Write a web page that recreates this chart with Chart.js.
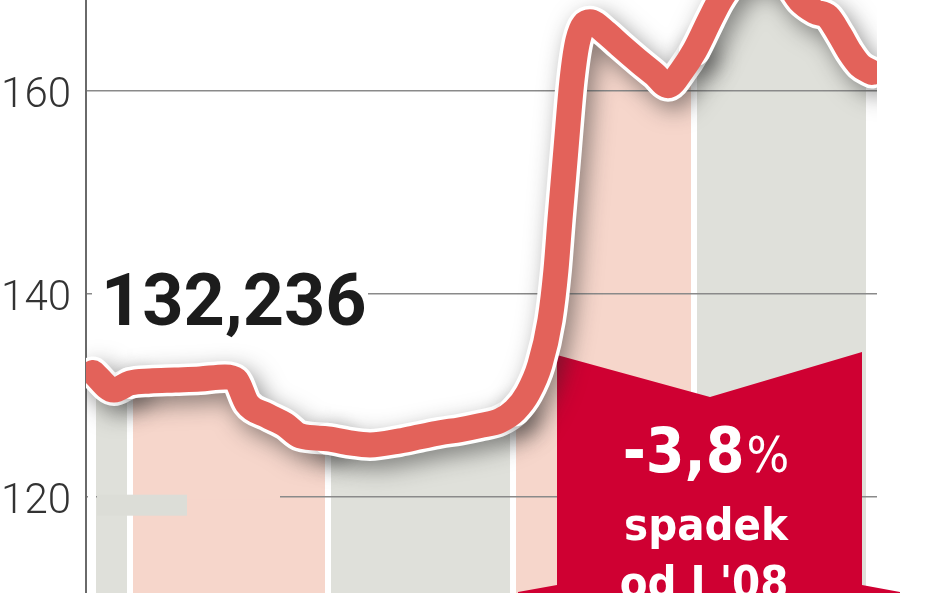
<!DOCTYPE html>
<html>
<head>
<meta charset="utf-8">
<script src="https://cdn.jsdelivr.net/npm/chart.js@4.4.1/dist/chart.umd.min.js"></script>
<style>
html,body{margin:0;padding:0;background:#fff;overflow:hidden}
#wrap{position:relative;width:948px;height:593px}
canvas{display:block}
</style>
</head>
<body>
<div id="wrap"><canvas id="c" width="948" height="593"></canvas></div>
<script>
// ---- data (session index, index value) ----
const sessions = [0.78, 3.11, 4.89, 7.11, 9.89, 12.67, 15.44, 16.67, 17.89, 20.11,
  22.11, 23.78, 26.89, 29.33, 31.56, 34.89, 37.11, 39.33, 41.56, 43.78,
  46.0, 47.67, 49.11, 50.44, 51.56, 52.22, 52.67, 53.33, 54.0, 54.67,
  56.0, 57.67, 59.33, 61.56, 63.22, 64.67, 66.22, 67.67, 69.33, 70.44,
  72.11, 74.33, 76.56, 78.22, 79.33, 81.0, 82.44, 83.78, 84.89, 86.0, 87.33];
const indexValues = [132.24, 130.5, 131.2, 131.4, 131.5, 131.6, 131.8, 131.5, 129.2, 128.0,
  127.1, 126.0, 125.7, 125.3, 125.1, 125.5, 125.9, 126.3, 126.6, 127.0,
  127.5, 128.5, 130.2, 133.0, 137.4, 142.3, 147.3, 154.2, 161.0, 165.0,
  166.8, 165.8, 164.5, 162.8, 161.6, 160.5, 162.0, 164.0, 167.0, 168.9,
  170.9, 171.9, 171.7, 170.3, 168.9, 167.8, 167.3, 165.5, 163.8, 162.5, 161.8];
const yTicks = [120, 140, 160];
const monthBounds = [4.9, 26.9, 47.5, 67.6, 87.0];     // month ends (XII, I, II, III, IV)
const monthColors = ['#DFE0DA', '#F6D6CB', '#DFE0DA', '#F6D6CB', '#DFE0DA'];
const startLabel = '132,236';
const changeValue = '-3,8';
const changeUnit = '%';
const changeLines = ['spadek', "od I '08"];

const points = sessions.map((x, i) => ({x: x, y: indexValues[i]}));

function bandColor(ctx) {
  const mid = (ctx.p0.parsed.x + ctx.p1.parsed.x) / 2;
  let i = 0;
  while (i < monthBounds.length && mid >= monthBounds[i]) i++;
  return i < monthColors.length ? monthColors[i] : 'rgba(0,0,0,0)';
}

const shadowPlugin = {
  id: 'lineShadow',
  beforeDatasetDraw(chart, args) {
    if (args.index === 1) {
      const c = chart.ctx;
      c.save();
      c.shadowColor = 'rgba(40,40,40,0.5)';
      c.shadowBlur = 22;
      c.shadowOffsetX = 6;
      c.shadowOffsetY = 8;
    }
  },
  afterDatasetDraw(chart, args) {
    if (args.index === 1) chart.ctx.restore();
  }
};

const decorPlugin = {
  id: 'decor',
  beforeDatasetsDraw(chart) {
    const c = chart.ctx;
    const y = chart.scales.y;
    c.save();
    // small artifacts near 120 gridline
    const g120 = y.getPixelForValue(120);
    c.fillStyle = '#F6D6CB';
    c.fillRect(187, g120 - 3, 93, 6);
    c.fillStyle = '#DCDDD7';
    c.fillRect(97, g120 - 2, 90, 21);
    // white margin before first band
    c.fillStyle = '#fff';
    c.fillRect(88, 380, 8, 213);

    // start value label with white background
    c.fillStyle = '#fff';
    c.fillRect(92, 268, 276, 76);
    c.fillStyle = '#1c1c1c';
    c.font = 'bold 72px Roboto';
    c.textBaseline = 'alphabetic';
    c.textAlign = 'left';
    c.fillText(startLabel, 101, 325);

    // red callout
    c.fillStyle = '#CF0032';
    c.beginPath();
    c.moveTo(557, 355);
    c.lineTo(710, 397);
    c.lineTo(862, 352);
    c.lineTo(862, 585);
    c.lineTo(900, 592);
    c.lineTo(900, 600);
    c.lineTo(518, 600);
    c.lineTo(518, 592);
    c.lineTo(557, 585);
    c.closePath();
    c.fill();

    c.fillStyle = '#fff';
    c.textAlign = 'left';
    const f1 = 'bold 62px "DejaVu Sans Condensed"';
    const f2 = '50px "DejaVu Sans Condensed"';
    c.font = f1;
    const w1 = c.measureText(changeValue).width;
    c.font = f2;
    const w2 = c.measureText(changeUnit).width;
    const cx = 706;
    let x0 = cx - (w1 + w2 + 2) / 2;
    c.font = f1;
    c.fillText(changeValue, x0, 472);
    c.font = f2;
    c.fillText(changeUnit, x0 + w1 + 2, 472);
    c.textAlign = 'center';
    c.font = 'bold 45px "DejaVu Sans Condensed"';
    c.fillText(changeLines[0], cx, 540);
    c.fillText(changeLines[1], cx - 2, 598);
    c.restore();
  }
};

new Chart(document.getElementById('c'), {
  type: 'line',
  data: {
    datasets: [
      {
        data: points,
        borderColor: '#E3625A',
        borderWidth: 25,
        borderCapStyle: 'round',
        borderJoinStyle: 'round',
        cubicInterpolationMode: 'monotone',
        pointRadius: 0,
        fill: false
      },
      {
        data: points,
        borderColor: '#ffffff',
        borderWidth: 32,
        borderCapStyle: 'round',
        borderJoinStyle: 'round',
        cubicInterpolationMode: 'monotone',
        pointRadius: 0,
        backgroundColor: '#DFE0DA',
        fill: 'start',
        segment: { backgroundColor: bandColor }
      }
    ]
  },
  options: {
    responsive: false,
    animation: false,
    devicePixelRatio: 1,
    layout: { padding: { left: 0, right: 71, top: 0, bottom: 0 } },
    plugins: {
      legend: { display: false },
      tooltip: { enabled: false },
      filler: { drawTime: 'beforeDraw' }
    },
    scales: {
      x: {
        type: 'linear',
        min: 0,
        max: 87.9,
        afterBuildTicks: s => { s.ticks = monthBounds.map(v => ({value: v})); },
        afterFit: s => { s.height = 0; s.paddingLeft = 0; s.paddingRight = 0; },
        ticks: { display: false },
        border: { display: false },
        grid: { color: '#ffffff', lineWidth: 6, drawTicks: false }
      },
      y: {
        min: 110.51,
        max: 168.94,
        afterBuildTicks: s => { s.ticks = yTicks.map(v => ({value: v})); },
        afterFit: s => { s.width = 86; s.paddingTop = 0; s.paddingBottom = 0; },
        ticks: {
          color: '#333',
          font: { family: 'Roboto', size: 42, weight: '300' },
          padding: 15,
          labelOffset: 6
        },
        border: { display: true, color: '#6a6a6a', width: 2 },
        grid: { color: '#8a8a8a', lineWidth: 1.5, drawTicks: false }
      }
    }
  },
  plugins: [shadowPlugin, decorPlugin]
});
</script>
</body>
</html>
